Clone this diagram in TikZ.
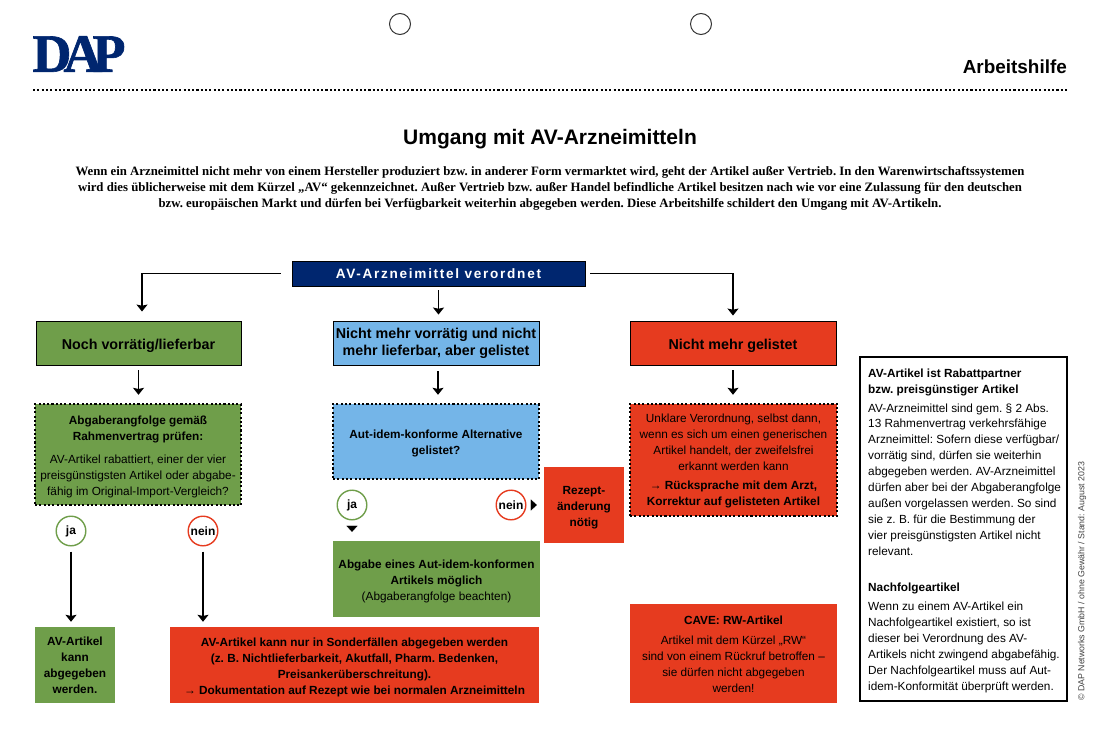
\documentclass[tikz,border=0pt]{standalone}
\usepackage{fontspec}
\setmainfont{Liberation Sans}
\newfontfamily\introfont{Liberation Serif}
\usetikzlibrary{arrows.meta}
\definecolor{dapnavy}{HTML}{00266F}
\definecolor{dapgreen}{HTML}{6F9E4A}
\definecolor{dapblue}{HTML}{74B5E8}
\definecolor{dapred}{HTML}{E63B1F}
\newcommand{\dropto}[1]{\rule{0pt}{#1pt}}
\tikzset{
  txt/.style={font=\fontsize{11.8}{15.9}\selectfont, align=center, inner sep=0pt},
  boldtxt/.style={txt, font=\fontsize{11.8}{15.9}\selectfont\bfseries},
  head/.style={font=\fontsize{14.3}{17}\selectfont\bfseries, align=center, inner sep=0pt, draw=black, line width=0.9pt, execute at begin node={\rule{0pt}{17pt}}},
  dots/.style={txt, draw=black, line width=2.4pt, dash pattern=on 2.1pt off 2.2pt},
  flow/.style={line width=1.2pt, -{Stealth[length=7pt,width=11pt,inset=1.2pt]}},
  tiponly/.style={line width=0.1pt, -{Stealth[length=6pt,width=11pt,inset=0pt]}},
  badge/.style={circle, minimum size=29.6pt, inner sep=0pt, draw=#1, line width=1.4pt, fill=white, font=\fontsize{12}{14}\selectfont\bfseries}
}
\begin{document}
\frenchspacing
\begin{tikzpicture}[x=1pt, y=-1pt]
  \useasboundingbox (0,0) rectangle (1100,746);
  \node[draw=black!80, line width=1pt, circle, minimum size=21pt, inner sep=0pt] (holea) at (400,24) {};
  \node[draw=black!80, line width=1pt, circle, minimum size=21pt, inner sep=0pt] (holeb) at (701,24) {};
  \node[inner sep=0pt, text=dapnavy, font=\fontsize{54}{54}\introfont\bfseries\addfontfeature{FakeBold=1.2}] (logo) at (79,54) {D\kern-8pt A\kern-10pt P};
  \node[anchor=east, inner sep=0pt, font=\fontsize{18.9}{22}\selectfont\bfseries] (kind) at (1067,67) {Arbeitshilfe};
  \draw[line width=2.4pt, dash pattern=on 2.1pt off 2.2pt] (33,90) -- (1067,90);
  \node[inner sep=0pt, font=\fontsize{21}{24}\selectfont\bfseries] (title) at (550,139) {Umgang mit AV-Arzneimitteln};
  \node[align=center, inner sep=0pt, font=\fontsize{12.78}{16}\introfont\bfseries] (intro) at (550,188) {Wenn ein Arzneimittel nicht mehr von einem Hersteller produziert bzw. in anderer Form vermarktet wird, geht der Artikel außer Vertrieb. In den Warenwirtschaftssystemen\\
    wird dies üblicherweise mit dem Kürzel „AV“ gekennzeichnet. Außer Vertrieb bzw. außer Handel befindliche Artikel besitzen nach wie vor eine Zulassung für den deutschen\\
    bzw. europäischen Markt und dürfen bei Verfügbarkeit weiterhin abgegeben werden. Diese Arbeitshilfe schildert den Umgang mit AV-Artikeln.};

  \node[draw=black, line width=0.9pt, fill=dapnavy, text=white, minimum width=293pt, minimum height=25pt, inner sep=0pt, font=\fontsize{13.6}{16}\selectfont\bfseries\addfontfeature{LetterSpace=12.5}] (start) at (438.5,273.5) {AV-Arzneimittel verordnet};

  \node[head, fill=dapgreen, minimum width=205pt, minimum height=44pt] (stock) at (138.5,343) {Noch vorrätig/lieferbar};
  \node[head, fill=dapblue, minimum width=206pt, minimum height=44pt] (listed) at (436,343) {Nicht mehr vorrätig und nicht\\mehr lieferbar, aber gelistet};
  \node[head, fill=dapred, minimum width=206pt, minimum height=44pt] (unlisted) at (733,343) {Nicht mehr gelistet};

  \node[dots, fill=dapgreen, minimum width=206pt, minimum height=101pt] (check) at (138,454.5) {\dropto{13.5}\textbf{Abgaberangfolge gemäß}\\\textbf{Rahmenvertrag prüfen:}\\[6.7pt]AV-Artikel rabattiert, einer der vier\\preisgünstigsten Artikel oder abgabe-\\fähig im Original-Import-Vergleich?};
  \node[dots, boldtxt, fill=dapblue, minimum width=206pt, minimum height=75pt] (alt) at (436,441.5) {\dropto{13}Aut-idem-konforme Alternative\\gelistet?};
  \node[dots, fill=dapred, minimum width=207pt, minimum height=112pt] (unclear) at (733.5,460) {\dropto{10.7}Unklare Verordnung, selbst dann,\\wenn es sich um einen generischen\\Artikel handelt, der zweifelsfrei\\erkannt werden kann\\[3.5pt]\textbf{→ Rücksprache mit dem Arzt,}\\\textbf{Korrektur auf gelisteten Artikel}};

  \node[badge=dapgreen] (jaa) at (71,531) {ja};
  \node[badge=dapred] (neina) at (203,531) {nein};
  \node[badge=dapgreen] (jab) at (352,505) {ja};
  \node[badge=dapred] (neinb) at (511,505) {nein};

  \node[boldtxt, fill=dapgreen, minimum width=80pt, minimum height=76pt] (give) at (75,665) {\dropto{9.7}AV-Artikel\\kann\\abgegeben\\werden.};
  \node[boldtxt, fill=dapred, minimum width=369pt, minimum height=76pt] (special) at (354.5,665) {\dropto{13}AV-Artikel kann nur in Sonderfällen abgegeben werden\\(z. B. Nichtlieferbarkeit, Akutfall, Pharm. Bedenken,\\Preisankerüberschreitung).\\→ Dokumentation auf Rezept wie bei normalen Arzneimitteln};
  \node[txt, fill=dapgreen, minimum width=207pt, minimum height=76pt] (idem) at (436.5,579) {\dropto{13}\textbf{Abgabe eines Aut-idem-konformen}\\\textbf{Artikels möglich}\\(Abgaberangfolge beachten)};
  \node[boldtxt, fill=dapred, minimum width=80pt, minimum height=76pt] (change) at (584,505) {\dropto{14}Rezept-\\änderung\\nötig};
  \node[txt, fill=dapred, minimum width=207pt, minimum height=99pt] (cave) at (733.5,653.5) {\dropto{10.7}\textbf{CAVE: RW-Artikel}\\[4pt]Artikel mit dem Kürzel „RW“\\sind von einem Rückruf betroffen –\\sie dürfen nicht abgegeben\\werden!};

  \node[draw=black, line width=1.1pt, minimum width=207pt, minimum height=344pt, inner sep=0pt] (side) at (963.5,529) {};
  \node[txt, align=left, anchor=north west, font=\fontsize{11.8}{15.9}\selectfont] (sidetxt) at (868,368.5) {\textbf{AV-Artikel ist Rabattpartner}\\\textbf{bzw. preisgünstiger Artikel}\\[3pt]
    AV-Arzneimittel sind gem. § 2 Abs.\\13 Rahmenvertrag verkehrsfähige\\Arzneimittel: Sofern diese verfügbar/\\vorrätig sind, dürfen sie weiterhin\\abgegeben werden. AV-Arzneimittel\\dürfen aber bei der Abgaberangfolge\\außen vorgelassen werden. So sind\\sie z. B. für die Bestimmung der\\vier preisgünstigsten Artikel nicht\\relevant.\\[20pt]
    \textbf{Nachfolgeartikel}\\[4pt]
    Wenn zu einem AV-Artikel ein\\Nachfolgeartikel existiert, so ist\\dieser bei Verordnung des AV-\\Artikels nicht zwingend abgabefähig.\\Der Nachfolgeartikel muss auf Aut-\\idem-Konformität überprüft werden.};
  \node[rotate=90, anchor=west, inner sep=0pt, text=black!75, font=\fontsize{8.8}{10}\selectfont] (copy) at (1082,701) {© DAP Networks GmbH / ohne Gewähr / Stand: August 2023};

  \draw[flow, shorten <=11pt, shorten >=9pt] (start.west) -| ([xshift=3.5pt]stock.north);
  \draw[flow, shorten <=5pt, shorten >=5pt] (start.east) -| (unlisted.north);
  \draw[flow, shorten <=4pt, shorten >=6pt] (start.south) -- (start.south |- listed.north);
  \draw[flow, shorten <=5pt, shorten >=8pt] (stock.south) -- (stock.south |- check.north);
  \draw[flow, shorten <=6pt, shorten >=8pt] ([xshift=2pt]listed.south) -- ([xshift=2pt]alt.north);
  \draw[flow, shorten <=5pt, shorten >=8pt] (unlisted.south) -- (unlisted.south |- unclear.north);
  \draw[flow, shorten <=5pt, shorten >=5pt] (jaa.south) -- (jaa.south |- give.north);
  \draw[flow, shorten <=5pt, shorten >=5pt] (neina.south) -- (neina.south |- special.north);
  \draw[tiponly, shorten <=5.5pt, shorten >=9pt] (jab.south) -- (jab.south |- idem.north);
  \draw[tiponly, shorten <=5.5pt, shorten >=7pt] (neinb.east) -- (neinb.east -| change.west);
\end{tikzpicture}
\end{document}
